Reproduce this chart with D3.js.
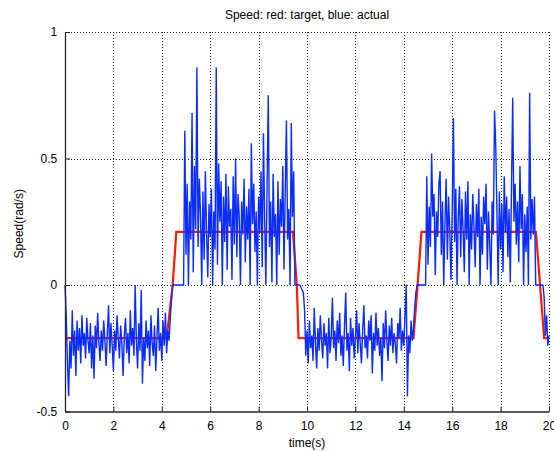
<!DOCTYPE html>
<html>
<head>
<meta charset="utf-8">
<script src="https://cdn.jsdelivr.net/npm/d3@7"></script>
<style>
  html, body { margin: 0; padding: 0; background: #ffffff; }
  svg { display: block; }
  text { font-family: "Liberation Sans", Arial, Helvetica, sans-serif; fill: #000; }
</style>
</head>
<body>
<svg id="chart" width="554" height="451"></svg>
<script>
// Sample period of the recorded speed (s)
const sampleDt = 0.05;

// Measured speed, one value every 0.05 s from t = 0 to t = 20 (rad/s)
const actualSpeed = [
  0.00, -0.12, -0.30, -0.44, -0.22, -0.33, -0.10, -0.28, -0.18, -0.36,
  -0.14, -0.26, -0.17, -0.31, -0.12, -0.24, -0.19, -0.29, -0.13, -0.22,
  -0.27, -0.15, -0.33, -0.20, -0.37, -0.16, -0.25, -0.11, -0.23, -0.30,
  -0.18, -0.26, -0.14, -0.22, -0.32, -0.19, -0.08, -0.27, -0.15, -0.24,
  -0.34, -0.18, -0.26, -0.12, -0.21, -0.29, -0.16, -0.23, -0.36, -0.20,
  -0.13, -0.27, -0.19, -0.31, -0.10, -0.24, -0.17, -0.28, 0.00, -0.22,
  -0.33, -0.15, -0.26, -0.02, -0.39, -0.21, -0.30, -0.14, -0.25, -0.18,
  -0.32, -0.12, -0.23, -0.28, -0.16, -0.34, -0.21, -0.09, -0.26, -0.19,
  -0.30, -0.14, -0.24, -0.11, -0.27, -0.18, -0.22, -0.13, -0.06, 0.00,
  0.00, 0.00, 0.00, 0.00, 0.00, 0.00, 0.00, 0.00, 0.00, 0.61,
  0.12, 0.40, 0.00, 0.33, 0.18, 0.68, 0.05, 0.47, 0.22, 0.86,
  0.15, 0.42, 0.28, 0.00, 0.37, 0.10, 0.45, 0.21, 0.03, 0.32,
  0.19, 0.38, 0.00, 0.29, 0.14, 0.86, 0.08, 0.48, 0.25, 0.41,
  0.00, 0.35, 0.17, 0.44, 0.06, 0.39, 0.23, 0.30, 0.02, 0.43,
  0.16, 0.50, 0.11, 0.36, 0.27, 0.00, 0.33, 0.20, 0.42, 0.09,
  0.31, 0.18, 0.38, 0.00, 0.56, 0.24, 0.40, 0.13, 0.29, 0.00,
  0.35, 0.21, 0.45, 0.07, 0.60, 0.26, 0.00, 0.39, 0.75, 0.15,
  0.33, 0.01, 0.44, 0.19, 0.28, 0.00, 0.41, 0.12, 0.34, 0.23,
  0.47, 0.06, 0.37, 0.65, 0.18, 0.30, 0.00, 0.64, 0.27, 0.45,
  0.00, 0.00, 0.00, 0.00, 0.00, -0.01, -0.02, -0.03, -0.10, -0.28,
  -0.18, -0.31, -0.14, -0.25, -0.20, -0.30, -0.09, -0.23, -0.33, -0.17,
  -0.26, -0.12, -0.22, -0.29, -0.15, -0.24, -0.19, -0.33, -0.13, -0.27,
  -0.21, -0.05, -0.25, -0.18, -0.30, -0.14, -0.23, -0.11, -0.28, -0.20,
  -0.32, -0.16, -0.03, -0.26, -0.19, -0.34, -0.13, -0.24, -0.17, -0.29,
  -0.21, -0.10, -0.27, -0.15, -0.23, -0.31, -0.18, -0.08, -0.25, -0.20,
  -0.29, -0.14, -0.22, -0.12, -0.35, -0.19, -0.26, -0.11, -0.24, -0.17,
  -0.28, -0.21, -0.38, -0.15, -0.25, -0.10, -0.22, -0.30, -0.16, -0.24,
  -0.13, -0.27, -0.19, -0.23, -0.31, -0.15, -0.21, -0.09, -0.26, -0.18,
  -0.24, -0.12, 0.00, -0.44, -0.20, -0.27, -0.14, -0.22, -0.17, -0.09,
  -0.03, 0.00, 0.00, 0.00, 0.00, 0.00, 0.00, 0.00, 0.00, 0.43,
  0.08, 0.31, 0.15, 0.52, 0.27, 0.36, 0.04, 0.29, 0.19, 0.40,
  0.45, 0.12, 0.33, 0.00, 0.24, 0.42, 0.10, 0.35, 0.21, 0.02,
  0.30, 0.66, 0.17, 0.38, 0.00, 0.26, 0.39, 0.11, 0.34, 0.22,
  0.05, 0.37, 0.18, 0.41, 0.00, 0.28, 0.14, 0.36, 0.23, 0.07,
  0.32, 0.19, 0.38, 0.00, 0.27, 0.12, 0.35, 0.24, 0.40, 0.06,
  0.29, 0.16, 0.00, 0.33, 0.20, 0.69, 0.55, 0.28, 0.00, 0.37,
  0.14, 0.32, 0.05, 0.43, 0.21, 0.35, 0.11, 0.30, 0.01, 0.38,
  0.74, 0.25, 0.40, 0.16, 0.33, 0.09, 0.47, 0.22, 0.36, 0.00,
  0.28, 0.13, 0.31, 0.00, 0.76, 0.18, 0.34, 0.20, 0.35, 0.00,
  0.00, 0.00, 0.00, 0.00, 0.00, 0.00, -0.05, -0.20, -0.12, -0.24,
  -0.20
];

// Commanded speed profile: breakpoints of the trapezoidal reference
const targetTime  = [0, 4.2, 4.45, 4.6, 9.42, 9.58, 9.65, 14.4, 14.57, 14.73, 19.46, 19.63, 19.8, 20];
const targetSpeed = [-0.21, -0.21, 0, 0.21, 0.21, 0, -0.21, -0.21, 0, 0.21, 0.21, 0, -0.21, -0.21];

// Axis ticks
const xTicks = [0, 2, 4, 6, 8, 10, 12, 14, 16, 18, 20];
const yTicks = [-0.5, 0, 0.5, 1];

const titleText = "Speed: red: target, blue: actual";
const xLabel = "time(s)";
const yLabel = "Speed(rad/s)";

const svg = d3.select("#chart");
const plotLeft = 65, plotRight = 549, plotTop = 32, plotBottom = 411.5;

const x = d3.scaleLinear().domain([0, 20]).range([plotLeft, plotRight]);
const y = d3.scaleLinear().domain([-0.5, 1]).range([plotBottom, plotTop]);

// Dotted grid
const grid = svg.append("g").attr("stroke", "#222").attr("stroke-width", 1)
  .attr("stroke-dasharray", "1,2").attr("shape-rendering", "crispEdges");
xTicks.slice(1).forEach(t => {
  grid.append("line").attr("x1", Math.round(x(t)) + 0.5).attr("x2", Math.round(x(t)) + 0.5)
    .attr("y1", plotTop).attr("y2", plotBottom);
});
yTicks.slice(1).forEach(t => {
  grid.append("line").attr("y1", Math.round(y(t)) + 0.5).attr("y2", Math.round(y(t)) + 0.5)
    .attr("x1", plotLeft).attr("x2", plotRight);
});

// Data series
const actualPts = actualSpeed.map((v, i) => [i * sampleDt, v]);
const targetPts = targetTime.map((t, i) => [t, targetSpeed[i]]);
const line = d3.line().x(d => x(d[0])).y(d => y(d[1]));

svg.append("path").datum(targetPts).attr("d", line)
  .attr("fill", "none").attr("stroke", "#ff1a00").attr("stroke-width", 2.2);

svg.append("path").datum(actualPts).attr("d", line)
  .attr("fill", "none").attr("stroke", "#0a2cff").attr("stroke-width", 1.4)
  .attr("stroke-linejoin", "bevel");

// Axes with inward ticks
const xAxis = d3.axisBottom(x).tickValues(xTicks).tickFormat(d3.format("d"))
  .tickSizeInner(-5).tickSizeOuter(0).tickPadding(10);
const yAxis = d3.axisLeft(y).tickValues(yTicks).tickFormat(d => d === 0 ? "0" : String(d))
  .tickSizeInner(-5).tickSizeOuter(0).tickPadding(9);

const gx = svg.append("g").attr("transform", `translate(0,${plotBottom})`).call(xAxis);
const gy = svg.append("g").attr("transform", `translate(${plotLeft},0)`).call(yAxis);
[gx, gy].forEach(g => {
  g.select(".domain").attr("stroke", "#262626").attr("stroke-width", 1.3);
  g.selectAll(".tick line").attr("stroke", "#262626");
  g.selectAll(".tick text").attr("font-size", 12)
    .attr("font-family", "'Liberation Sans', Arial, sans-serif").attr("fill", "#000");
});
gy.selectAll(".tick text").attr("dx", "0.1em");

// Titles
svg.append("text").attr("x", (plotLeft + plotRight) / 2).attr("y", 19)
  .attr("text-anchor", "middle").attr("font-size", 12).text(titleText);
svg.append("text").attr("x", (plotLeft + plotRight) / 2).attr("y", 447)
  .attr("text-anchor", "middle").attr("font-size", 12).text(xLabel);
svg.append("text").attr("transform", `translate(23,${(plotTop + plotBottom) / 2 + 2}) rotate(-90)`)
  .attr("text-anchor", "middle").attr("font-size", 12).text(yLabel);
</script>
</body>
</html>
